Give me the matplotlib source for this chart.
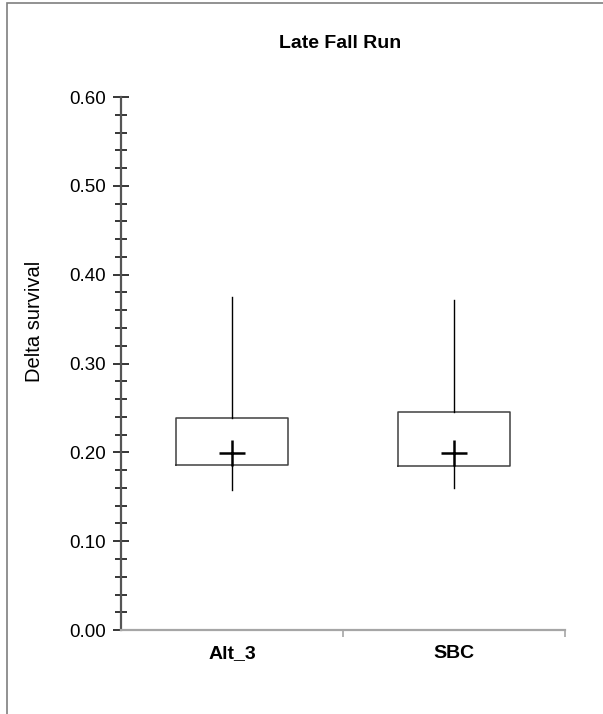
import matplotlib
matplotlib.use("Agg")
import matplotlib.pyplot as plt
from matplotlib.patches import Rectangle
from matplotlib.ticker import MultipleLocator, FixedLocator

plt.rcParams["font.family"] = ["Liberation Sans", "DejaVu Sans"]

# Delta survival summary per alternative
categories = ["Alt_3", "SBC"]
whisker_low = [0.158, 0.160]
box_low = [0.186, 0.185]
center = [0.199, 0.199]
box_high = [0.239, 0.246]
whisker_high = [0.375, 0.372]

fig = plt.figure(figsize=(6.03, 7.14), dpi=100)
ax = fig.add_axes([0.2007, 0.1176, 0.7363, 0.7465])

# outer chart frame
fig.patches.append(Rectangle((7 / 603, -0.1), 1.2, 1 - 3 / 714 + 0.1,
                             transform=fig.transFigure, fill=False,
                             edgecolor="#7f7f7f", linewidth=1.2))

positions = [i + 0.5 for i in range(len(categories))]
stats = []
for i, name in enumerate(categories):
    stats.append(dict(label=name, whislo=whisker_low[i], q1=box_low[i],
                      med=center[i], mean=center[i], q3=box_high[i],
                      whishi=whisker_high[i]))

ax.bxp(stats, positions=positions, widths=0.505, showcaps=False,
       showfliers=False, showmeans=True, manage_ticks=False,
       boxprops=dict(color="#404040", linewidth=1.1),
       whiskerprops=dict(color="black", linewidth=1.0),
       medianprops=dict(linewidth=0),
       meanprops=dict(marker="+", markersize=19, markeredgewidth=1.8,
                      markeredgecolor="black"))

ax.set_xlim(0, len(categories))
ax.set_ylim(0, 0.60)

ax.yaxis.set_major_locator(MultipleLocator(0.10))
ax.yaxis.set_minor_locator(MultipleLocator(0.02))
ax.yaxis.set_major_formatter(plt.FuncFormatter(lambda v, p: f"{v:.2f}"))
ax.tick_params(axis="y", which="major", direction="inout", length=12,
               width=1.1, color="black", labelsize=13.5, pad=5)
ax.tick_params(axis="y", which="minor", direction="inout", length=9,
               width=1.1, color="black")

# separators between categories, labels centred in each slot
ax.xaxis.set_major_locator(FixedLocator(range(1, len(categories) + 1)))
ax.xaxis.set_major_formatter(plt.NullFormatter())
ax.xaxis.set_minor_locator(FixedLocator(positions))
ax.set_xticklabels(categories, minor=True)
ax.tick_params(axis="x", which="major", direction="out", length=5,
               width=1.2, color="#a6a6a6")
ax.tick_params(axis="x", which="minor", length=0, labelsize=14, pad=11)
for lbl in ax.get_xticklabels(minor=True):
    lbl.set_fontweight("bold")

for side in ("top", "right"):
    ax.spines[side].set_visible(False)
ax.spines["left"].set_color("#555555")
ax.spines["left"].set_linewidth(1.6)
ax.spines["bottom"].set_color("#a6a6a6")
ax.spines["bottom"].set_linewidth(1.6)

ax.set_ylabel("Delta survival", fontsize=14.5, va="center")
ax.yaxis.set_label_coords(-0.196, 0.58)
fig.text(340 / 603, 1 - 44 / 714, "Late Fall Run", ha="center", va="center",
         fontsize=14, fontweight="bold")

fig.savefig("out.png", dpi=100)
